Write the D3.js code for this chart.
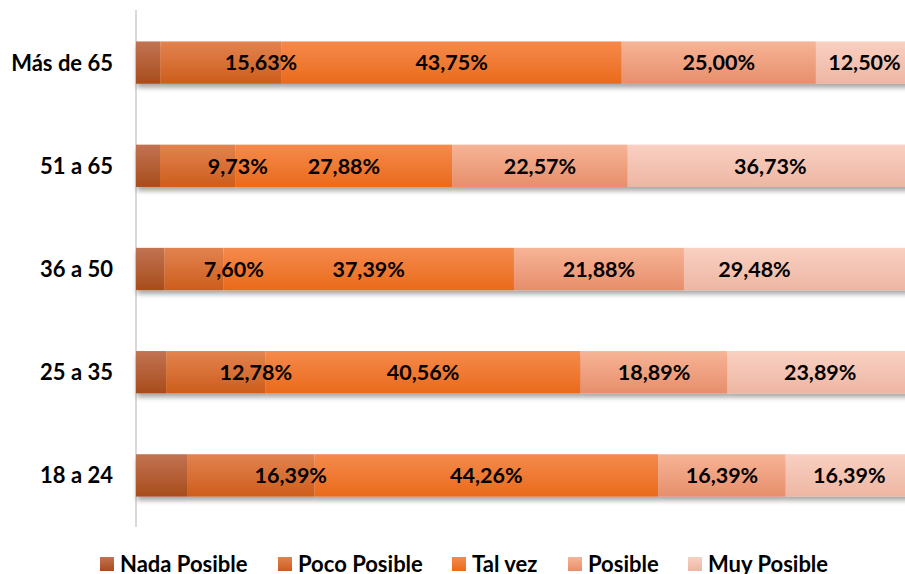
<!DOCTYPE html>
<html><head><meta charset="utf-8">
<script src="https://cdn.jsdelivr.net/npm/d3@7"></script>
<style>body{margin:0;background:#fff}svg{display:block}text{font-family:Lato,"Open Sans",sans-serif;font-weight:700}</style>
</head><body><svg id="c" width="905" height="574"></svg>
<script>
const categories = ["Más de 65","51 a 65","36 a 50","25 a 35","18 a 24"];
const seriesNames = ["Nada Posible","Poco Posible","Tal vez","Posible","Muy Posible"];
const nada   = [3.12, 3.09, 3.65, 3.88, 6.57];
const poco   = [15.63, 9.73, 7.60, 12.78, 16.39];
const talvez = [43.75, 27.88, 37.39, 40.56, 44.26];
const posible= [25.00, 22.57, 21.88, 18.89, 16.39];
const muy    = [12.50, 36.73, 29.48, 23.89, 16.39];
const seriesValues = [nada, poco, talvez, posible, muy];

const colors = [["#c27352","#a84c1b"],["#e2834f","#cd5d1c"],["#f58a4c","#ea6a1b"],["#f7b496","#e78e6b"],["#f9d0c2","#eeb6a3"]];
const labelShown = [false,true,true,true,true];
const labelDx = {"1":40}; // Poco labels nudged right as in reference
const labelNudge = {"2-4":-44};

const svg = d3.select("#c");
const x = d3.scaleLinear().domain([0,100]).range([136,913]);
const y = d3.scaleBand().domain(categories).range([11,527]).paddingInner(0.59).paddingOuter(0.295);

const defs = svg.append("defs");
colors.forEach((c,i)=>{
  const g = defs.append("linearGradient").attr("id","g"+i).attr("x1",0).attr("y1",0).attr("x2",0).attr("y2",1);
  g.append("stop").attr("offset","0%").attr("stop-color",c[0]);
  g.append("stop").attr("offset","100%").attr("stop-color",c[1]);
});
const f = defs.append("filter").attr("id","sh").attr("x","-5%").attr("y","-20%").attr("width","110%").attr("height","160%");
f.append("feGaussianBlur").attr("in","SourceAlpha").attr("stdDeviation",2.5);
f.append("feOffset").attr("dx",1).attr("dy",4).attr("result","b");
f.append("feComponentTransfer").append("feFuncA").attr("type","linear").attr("slope",0.35);
const m = f.append("feMerge"); m.append("feMergeNode"); m.append("feMergeNode").attr("in","SourceGraphic");

const rows = categories.map((c,ci)=>{
  let acc=0; return seriesValues.map((s,si)=>{const v=s[ci]; const o={c,ci,si,x0:acc,x1:acc+v,v}; acc+=v; return o;});
});

// axis line
svg.append("line").attr("x1",136).attr("x2",136).attr("y1",10).attr("y2",527).attr("stroke","#d9d9d9").attr("stroke-width",2);

const gRows = svg.selectAll("g.row").data(rows).join("g").attr("class","row").attr("filter","url(#sh)");
gRows.selectAll("rect").data(d=>d).join("rect")
  .attr("x",d=>x(d.x0)).attr("width",d=>x(d.x1)-x(d.x0))
  .attr("y",d=>y(d.c)).attr("height",y.bandwidth())
  .attr("fill",d=>"url(#g"+d.si+")");

const fmt = v=>v.toFixed(2).replace(".",",")+"%";
svg.selectAll("g.lab").data(rows).join("g").attr("class","lab")
  .selectAll("text").data(d=>d.filter(e=>labelShown[e.si])).join("text")
  .attr("x",d=>(x(d.x0)+x(d.x1))/2 + (labelDx[d.si]||0) + (labelNudge[d.ci+"-"+d.si]||0))
  .attr("y",d=>y(d.c)+y.bandwidth()/2).attr("dy","0.36em")
  .attr("text-anchor","middle").attr("font-size",21.5).attr("fill","#000")
  .text(d=>fmt(d.v));

// category labels
svg.selectAll("text.cat").data(categories).join("text").attr("class","cat")
  .attr("x",113).attr("y",d=>y(d)+y.bandwidth()/2).attr("dy","0.36em")
  .attr("text-anchor","end").attr("font-size",22).attr("fill","#000").text(d=>d);

// legend
const legX = [100,278,452,568,688];
const lg = svg.selectAll("g.leg").data(seriesNames).join("g").attr("class","leg")
  .attr("transform",(d,i)=>`translate(${legX[i]},557)`);
lg.append("rect").attr("width",14).attr("height",14).attr("fill",(d,i)=>"url(#g"+i+")");
lg.append("text").attr("x",20).attr("y",7).attr("dy","0.36em").attr("font-size",22).attr("fill","#000").text(d=>d);
</script></body></html>
